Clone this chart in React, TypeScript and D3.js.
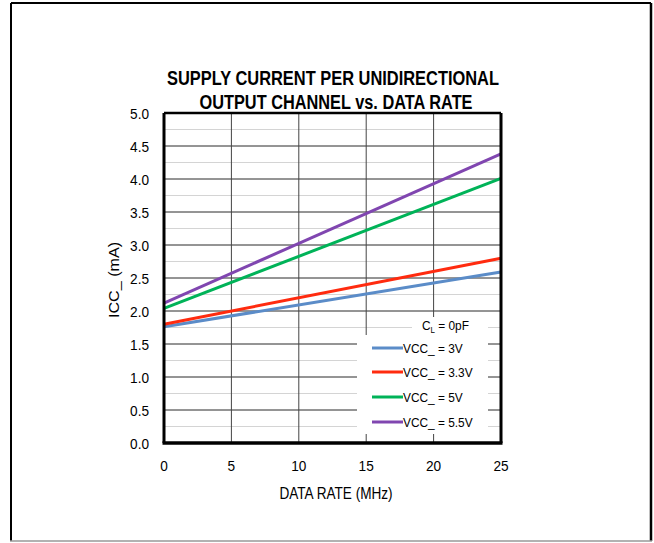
import React from "react";
import * as d3 from "d3";

const xDomain = [0, 25];
const yDomain = [0, 5];
const xTicks = [0, 5, 10, 15, 20, 25];
const yTicks = [0, 0.5, 1, 1.5, 2, 2.5, 3, 3.5, 4, 4.5, 5];
const dataRate = [0, 25];
const vcc3 = [1.76, 2.59];
const vcc33 = [1.8, 2.8];
const vcc5 = [2.04, 4.01];
const vcc55 = [2.12, 4.38];
const seriesNames = ["VCC_ = 3V", "VCC_ = 3.3V", "VCC_ = 5V", "VCC_ = 5.5V"];
const seriesColors = ["#5B8CC8", "#FF2B0F", "#00B358", "#8046B0"];
const titleLines = ["SUPPLY CURRENT PER UNIDIRECTIONAL", "OUTPUT CHANNEL vs. DATA RATE"];

const FONT = "'Liberation Sans', Arial, sans-serif";

function NText({ x, y, sx = 1, anchor = "start", size, children, weight }: any) {
  return (
    <g transform={`translate(${x},${y}) scale(${sx},1)`}>
      <text x={0} y={0} textAnchor={anchor} fontSize={size} fontWeight={weight}>{children}</text>
    </g>
  );
}

export default function App() {
  const W = 654, H = 543;
  const left = 164, right = 501, top = 113, bottom = 443;
  const x = d3.scaleLinear().domain(xDomain).range([left, right]);
  const y = d3.scaleLinear().domain(yDomain).range([bottom, top]);
  const series = [vcc3, vcc33, vcc5, vcc55];
  const line = d3.line<[number, number]>().x(d => x(d[0])).y(d => y(d[1]));
  const minor = d3.range(0.25, 5, 0.5);
  const legRows = [348, 372, 397, 422];

  return (
    <svg width={W} height={H} style={{ position: "absolute", left: 0, top: 0 }} fontFamily={FONT}>
      <rect x={0} y={0} width={W} height={H} fill="#fff" />
      {/* outer frame */}
      <line x1={11} y1={3} x2={651} y2={3} stroke="#000" strokeWidth={2} />
      <line x1={11} y1={3} x2={11} y2={541} stroke="#000" strokeWidth={2} />
      <line x1={651} y1={3} x2={651} y2={541} stroke="#000" strokeWidth={2.5} />
      <line x1={10} y1={541} x2={652} y2={541} stroke="#999" strokeWidth={1.5} />

      {/* title */}
      {titleLines.map((t, i) => (
        <text key={i} x={i === 0 ? 333 : 336} y={85 + i * 24} textAnchor="middle" fontSize={19.5} fontWeight="bold"
          textLength={i === 0 ? 332 : 273} lengthAdjust="spacingAndGlyphs">{t}</text>
      ))}

      {/* minor grid */}
      {minor.map(v => (
        <line key={"m" + v} x1={left} x2={right} y1={y(v)} y2={y(v)} stroke="#d4d4d4" strokeWidth={1.2} />
      ))}
      {/* major grid */}
      {yTicks.slice(1, -1).map(v => (
        <line key={"M" + v} x1={left} x2={right} y1={y(v)} y2={y(v)} stroke="#2a2a2a" strokeWidth={1} />
      ))}
      {xTicks.slice(1, -1).map(v => (
        <line key={"v" + v} x1={x(v)} x2={x(v)} y1={top} y2={bottom} stroke="#444" strokeWidth={1} />
      ))}

      {/* legend backgrounds */}
      <rect x={357} y={335} width={131} height={99} fill="#fff" />
      <rect x={412} y={317} width={76} height={18} fill="#fff" />

      {/* series */}
      {series.map((s, i) => (
        <path key={"s" + i} d={line(dataRate.map((d, j) => [d, s[j]]) as [number, number][]) || ""}
          fill="none" stroke={seriesColors[i]} strokeWidth={3} />
      ))}

      {/* plot border */}
      <line x1={left} x2={right} y1={top} y2={top} stroke="#000" strokeWidth={2.5} />
      <line x1={left} x2={left} y1={top} y2={bottom} stroke="#000" strokeWidth={3} />
      <line x1={right} x2={right} y1={top} y2={bottom} stroke="#000" strokeWidth={3} />
      <line x1={left - 1.5} x2={right + 1.5} y1={bottom} y2={bottom} stroke="#000" strokeWidth={3.5} />

      {/* legend */}
      <g transform="translate(422,330) scale(0.88,1)">
        <text x={0} y={0} fontSize={13.5}>
          C<tspan fontSize={9} dy={3}>L</tspan><tspan dy={-3}> = 0pF</tspan>
        </text>
      </g>
      {seriesNames.map((n, i) => (
        <g key={"l" + i}>
          <line x1={372} x2={403} y1={legRows[i]} y2={legRows[i]} stroke={seriesColors[i]} strokeWidth={3} />
          <NText x={403} y={legRows[i] + 5} sx={0.88} size={13.5}>{n}</NText>
        </g>
      ))}

      {/* y ticks */}
      {yTicks.map(v => (
        <NText key={"yt" + v} x={149} y={y(v) + 5.5} sx={0.88} anchor="end" size={15.5}>{v.toFixed(1)}</NText>
      ))}
      {/* x ticks */}
      {xTicks.map(v => (
        <NText key={"xt" + v} x={x(v)} y={471} sx={0.88} anchor="middle" size={15.5}>{v}</NText>
      ))}

      <NText x={336} y={499} sx={0.85} anchor="middle" size={16}>DATA RATE (MHz)</NText>
      <text transform={`translate(119, 280) rotate(-90)`} textAnchor="middle" fontSize={15.5}
        textLength={76} lengthAdjust="spacingAndGlyphs">ICC_ (mA)</text>
    </svg>
  );
}
